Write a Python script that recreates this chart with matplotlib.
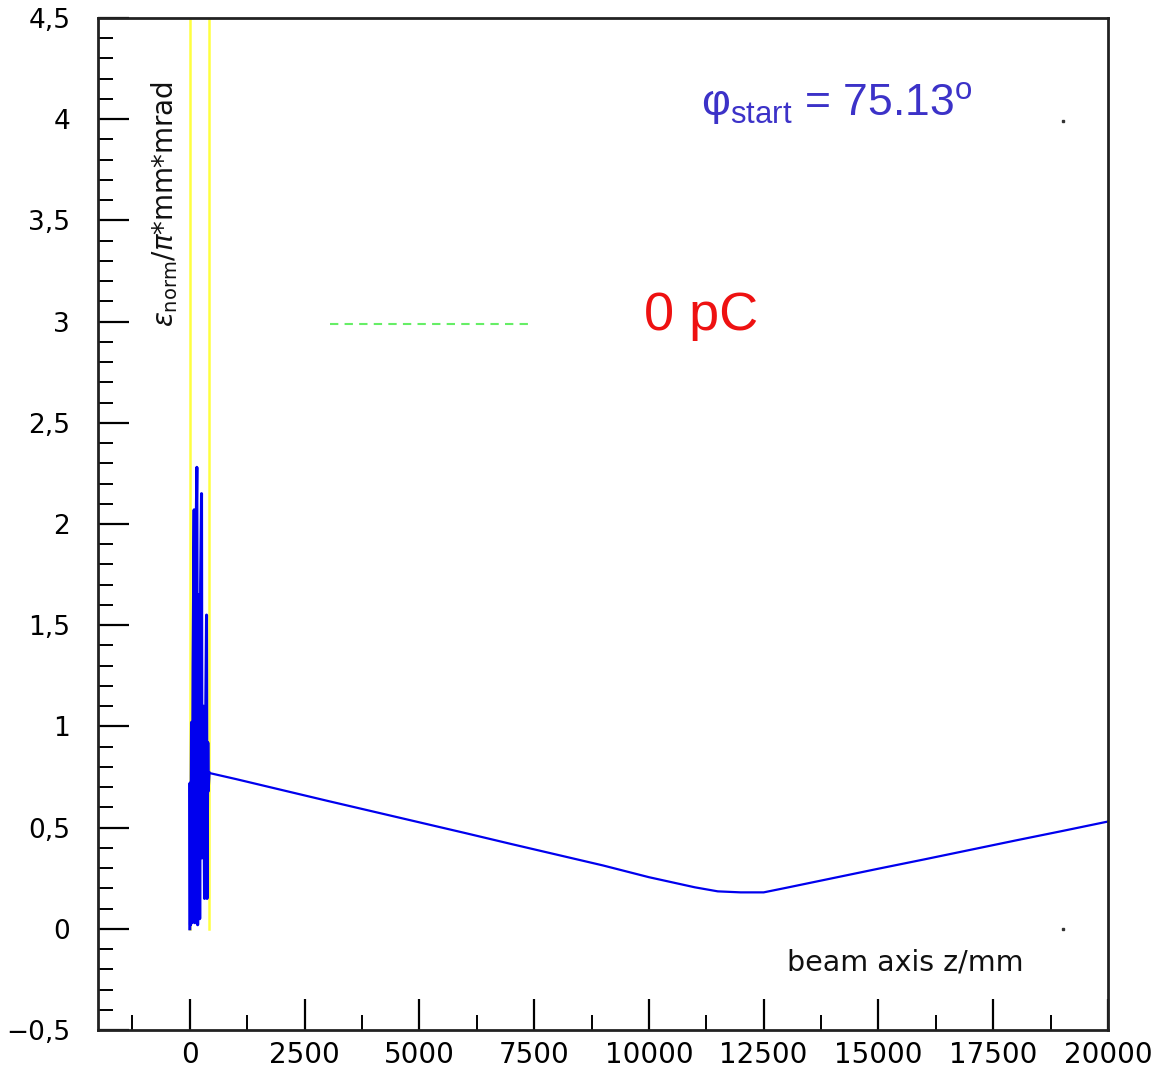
import matplotlib
matplotlib.use("Agg")
import matplotlib.pyplot as plt
from matplotlib.ticker import MultipleLocator, FuncFormatter

# Spiky region near the gun (z in mm, normalized emittance)
spike_z = [0, 5, 15, 37, 50, 70, 94, 110, 130, 153, 170, 200, 215, 235, 255, 265, 300, 320, 340, 364, 375, 392, 400, 420]
spike_eps = [0.0, 0.72, 0.02, 1.02, 0.03, 1.3, 2.07, 0.03, 1.8, 2.28, 0.02, 1.65, 0.05, 1.7, 2.15, 0.35, 1.10, 0.15, 0.9, 1.55, 0.15, 0.92, 0.68, 0.77]

# Drift region
drift_z = [420, 1000, 2000, 3000, 4000, 5000, 6000, 7000, 8000, 9000, 10000,
           11000, 11500, 12000, 12500, 13000, 14000, 15000, 16000, 17000, 18000, 19000, 20000]
drift_eps = [0.77, 0.74, 0.686, 0.632, 0.579, 0.526, 0.473, 0.419, 0.366, 0.313, 0.255,
             0.205, 0.185, 0.18, 0.18, 0.203, 0.25, 0.297, 0.343, 0.39, 0.437, 0.483, 0.53]

# Yellow marker lines (z positions)
yellow_z = [0, 414]

# Green dashed segment
green_z = [3050, 7400]
green_eps = [2.99, 2.99]

# Small black dots
dot_z = [19010, 19010]
dot_eps = [3.99, 0.0]

fig = plt.figure(figsize=(11.58, 10.73), dpi=100)
ax = fig.add_axes([98/1158, 1 - 1030/1073, 1010/1158, 1012/1073])

ax.set_xlim(-2000, 20000)
ax.set_ylim(-0.5, 4.5)

for zy in yellow_z:
    ax.plot([zy, zy], [0.0, 4.6], color="#ffff40", lw=1.8, zorder=1)

ax.plot(spike_z, spike_eps, color="#0000ee", lw=2.2, zorder=2)
ax.plot(drift_z, drift_eps, color="#0000ee", lw=1.6, zorder=2)

ax.plot(green_z, green_eps, color="#66ee66", lw=1.5, dashes=(4, 3), zorder=2)
ax.plot(dot_z, dot_eps, ls="none", marker="s", ms=2, color="#333333")

ax.xaxis.set_major_locator(MultipleLocator(2500))
ax.xaxis.set_minor_locator(MultipleLocator(1250))
ax.yaxis.set_major_locator(MultipleLocator(0.5))
ax.yaxis.set_minor_locator(MultipleLocator(0.1))

def yfmt(v, pos):
    s = ("%g" % round(v, 2)).replace(".", ",")
    return s.replace("-", "\u2212")

ax.yaxis.set_major_formatter(FuncFormatter(yfmt))
ax.xaxis.set_major_formatter(FuncFormatter(lambda v, p: "%d" % v if v >= 0 else ""))

ax.tick_params(axis="both", which="major", direction="in", length=22, width=1.6,
               top=False, right=False)
ax.tick_params(axis="both", which="minor", direction="in", length=11, width=1.4,
               top=False, right=False)
ax.tick_params(axis="y", which="major", pad=20, labelsize=19)
ax.tick_params(axis="x", which="major", pad=8, labelsize=20)

for sp in ax.spines.values():
    sp.set_linewidth(2.0)
    sp.set_color("#222222")

ax.text(-545, 3.58, r"$\varepsilon_{\mathrm{norm}}/\pi$*mm*mrad", rotation=90,
        ha="center", va="center", fontsize=20, color="#111111")
ax.text(13000, -0.165, "beam axis z/mm", ha="left", va="center", fontsize=20.5, color="#111111")

ax.text(11140, 4.08, r"$\mathregular{\varphi_{start}}$ = 75.13$^{\mathregular{o}}$",
        ha="left", va="center", fontsize=32, color="#3c32c8", family="Liberation Sans")
ax.text(11140, 3.03, "0 pC", ha="center", va="center", fontsize=39, color="#ee1111",
        family="Liberation Sans")

fig.savefig("out.png", dpi=100)
